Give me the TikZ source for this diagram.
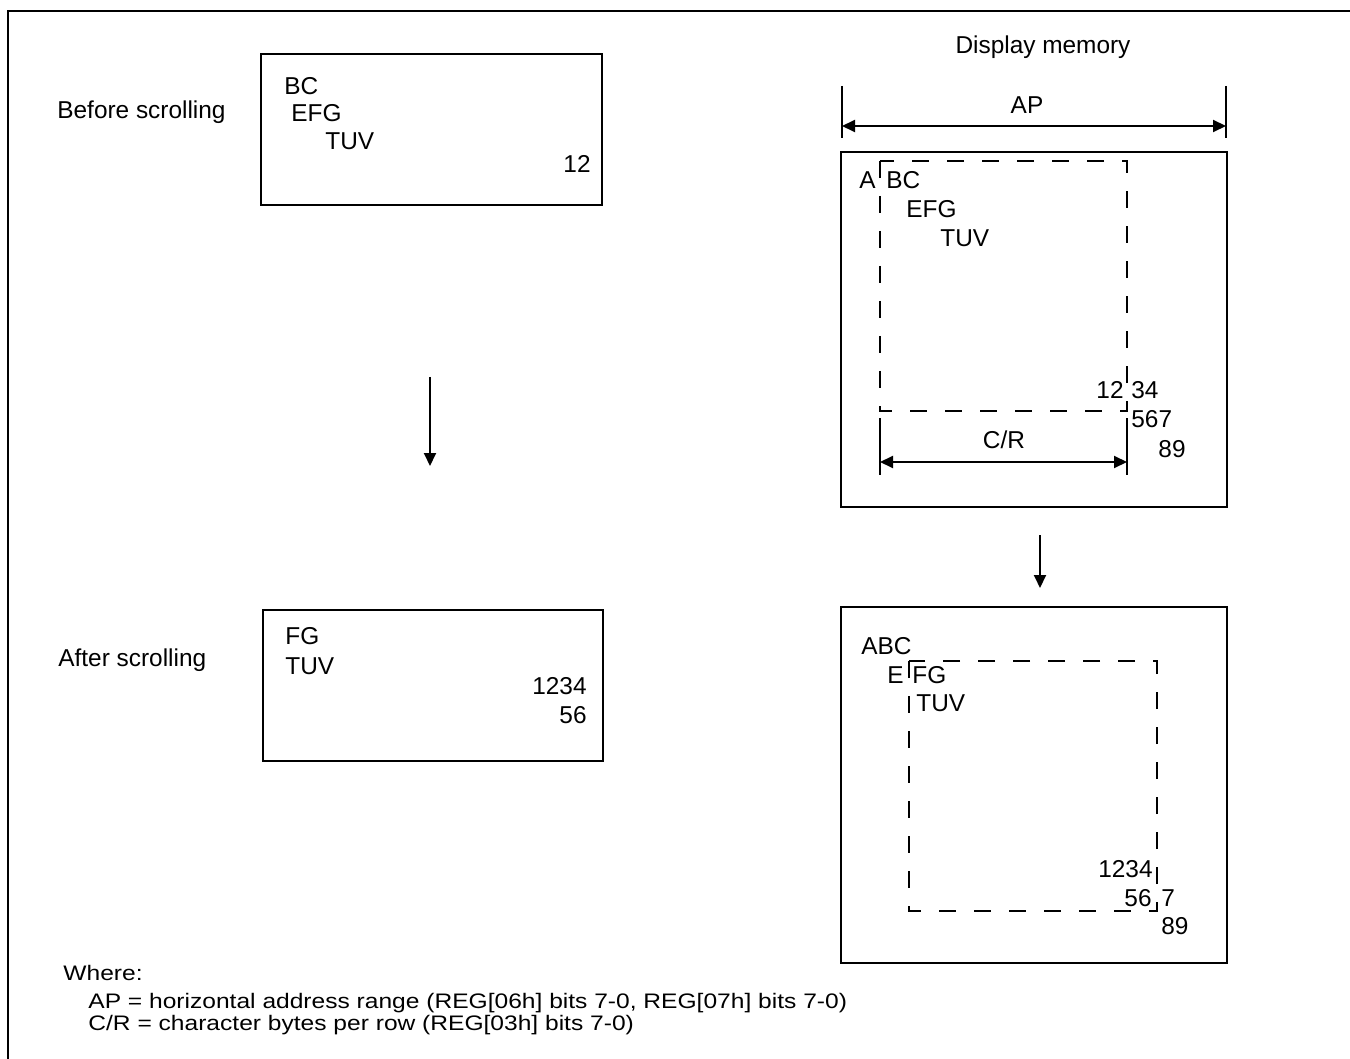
\documentclass[tikz,border=0pt]{standalone}
\usepackage{fontspec}
\setmainfont{Liberation Sans}
\newfontfamily\legendfont[FakeStretch=1.17]{Liberation Sans}
\usetikzlibrary{arrows.meta}

\tikzset{
  txt/.style={inner sep=0pt,anchor=base west},
  txtr/.style={inner sep=0pt,anchor=base east},
  txtc/.style={inner sep=0pt,anchor=base},
  legend/.style={txt,font=\legendfont\fontsize{10.5}{12}\selectfont},
  screen/.style={line width=0.8pt},
  window/.style={line width=0.7pt,dash pattern=on 8.5pt off 9pt},
  tick/.style={line width=0.6pt},
  dimline/.style={line width=1pt,{Triangle[length=6.5pt,width=6pt]}-{Triangle[length=6.5pt,width=6pt]}},
  scrollarrow/.style={line width=1pt,-{Triangle[length=6.5pt,width=6pt]}}
}

\begin{document}
\begin{tikzpicture}[x=0.5pt,y=-0.5pt,font=\fontsize{12.2}{14}\selectfont]
\useasboundingbox (0,0) rectangle (1350,1059);
\draw[line width=1pt] (8,1059)--(8,11)--(1350,11);
% screen before
\node[txt] (before) at (57,119) {Before scrolling};
\draw[screen] (261,54) rectangle (602,205);
\node[txt] (bcA) at (284,95) {BC};
\node[txt] (efgA) at (291,122) {EFG};
\node[txt] (tuvA) at (325,150) {TUV};
\node[txtr] (n12A) at (591,173) {12};
\coordinate (downA) at (430,377);
\coordinate (downB) at (430,466);
\draw[scrollarrow] (downA)--(downB);
% screen after
\node[txt] (after) at (58,666) {After scrolling};
\draw[screen] (263,610) rectangle (603,761);
\node[txt] (fgB) at (285,644) {FG};
\node[txt] (tuvB) at (285,674) {TUV};
\node[txtr] (n1234B) at (587,694) {1234};
\node[txtr] (n56B) at (587,723) {56};
% display memory before
\node[txtc] (dispmem) at (1043,54) {Display memory};
\coordinate (apL) at (842,126);
\coordinate (apR) at (1226,126);
\draw[tick] (842,86)--(842,138) (1226,86)--(1226,138);
\draw[dimline] (apL)--(apR);
\node[txtc] (ap) at (1027,114) {AP};
\draw[screen] (841,152) rectangle (1227,507);
\draw[window] (880,161) rectangle (1127,411);
\node[txt] (aC) at (859,189) {A};
\node[txt] (bcC) at (886,189) {BC};
\node[txt] (efgC) at (906,218) {EFG};
\node[txt] (tuvC) at (940,247) {TUV};
\node[txtr] (n12C) at (1124,399) {12};
\node[txt] (n34C) at (1131,399) {34};
\node[txt] (n567C) at (1131,428) {567};
\node[txtr] (n89C) at (1186,457) {89};
\coordinate (crL) at (880,462);
\coordinate (crR) at (1127,462);
\draw[tick] (880,418)--(880,475) (1127,418)--(1127,475);
\draw[dimline] (crL)--(crR);
\node[txtc] (cr) at (1004,448) {C/R};
\coordinate (downC) at (1040,535);
\coordinate (downD) at (1040,588);
\draw[scrollarrow] (downC)--(downD);
% display memory after
\draw[screen] (841,607) rectangle (1227,963);
\draw[window] (909,661) rectangle (1157,911);
\node[txt] (abcD) at (861,654) {ABC};
\node[txtr] (eD) at (904,683) {E};
\node[txt] (fgD) at (912,683) {FG};
\node[txt] (tuvD) at (916,711) {TUV};
\node[txtr] (n1234D) at (1153,877) {1234};
\node[txtr] (n56D) at (1152,906) {56};
\node[txt] (n7D) at (1161,906) {7};
\node[txt] (n89D) at (1161,934) {89};
% legend
\node[legend] (where) at (63,980) {Where:};
\node[legend] (apdef) at (88,1008) {AP = horizontal address range (REG[06h] bits 7-0, REG[07h] bits 7-0)};
\node[legend] (crdef) at (88,1030) {C/R = character bytes per row (REG[03h] bits 7-0)};
\end{tikzpicture}
\end{document}
